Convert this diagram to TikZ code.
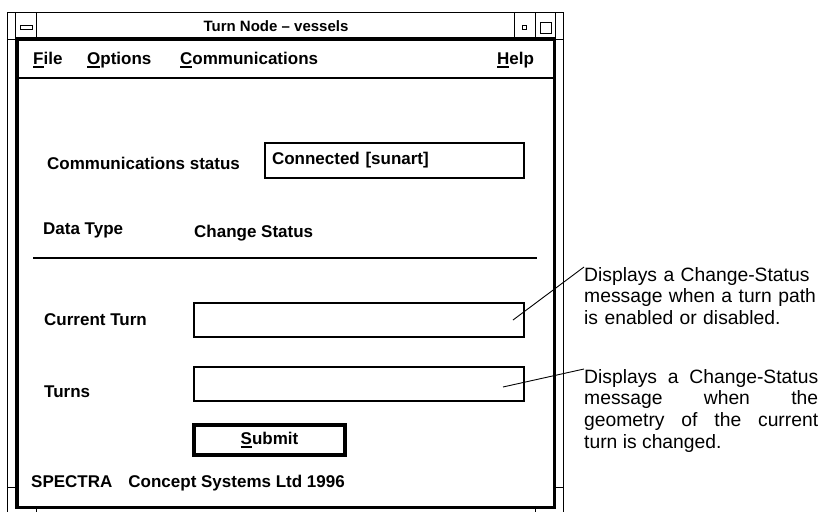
\documentclass[tikz,border=0pt]{standalone}
\usepackage{fontspec}
\setmainfont{Liberation Sans}
\usepackage{tikz}

\newcommand{\mnem}[1]{\setbox0\hbox{#1}\rlap{\rule[-3.5pt]{\wd0}{1.5pt}}\box0}

\begin{document}
\begin{tikzpicture}[
    x=1pt, y=-1pt,
    frame/.style={line width=1pt},
    label/.style={anchor=west, inner sep=0pt, font=\fontsize{17}{20}\selectfont\bfseries},
    field/.style={draw, line width=2pt, inner sep=0pt, minimum width=330pt, minimum height=34pt},
    note/.style={anchor=north west, inner sep=0pt, text width=234pt, align=justify,
        font=\fontsize{19.3}{21.7}\selectfont,
        execute at begin node={\hyphenpenalty=10000 \exhyphenpenalty=10000 \tolerance=9999 }}
]
\useasboundingbox (0,0) rectangle (823,512);

% window frame
\draw[frame] (7,512) -- (7,12) -- (563,12) -- (563,512);
\draw[frame] (15,12) -- (15,39) (36,12) -- (36,39) (514,12) -- (514,39)
    (535,12) -- (535,39) (555,12) -- (555,39);
\draw[frame] (7,39) -- (15,39) (555,39) -- (563,39) (7,487) -- (15,487) (555,487) -- (563,487)
    (36,508) -- (36,512) (535,508) -- (535,512);
\draw[frame] (20,25) rectangle (32,29);
\draw[frame] (522.5,25.5) rectangle (526,29);
\draw[frame] (540,22) rectangle (551,33);
\draw[line width=3.5pt] (16.75,39) rectangle (554.25,507.5);
\draw[line width=2.5pt] (15,78) -- (556,78);

\node[font=\fontsize{15}{18}\selectfont\bfseries] (title) at (276,26) {Turn Node -- vessels};

% menu bar
\node[label] (file) at (33,60) {\mnem{F}ile};
\node[label] (options) at (87,60) {\mnem{O}ptions};
\node[label] (comms) at (180,60) {\mnem{C}ommunications};
\node[label] (help) at (497,60) {\mnem{H}elp};

% form
\node[label] (statuslbl) at (47,163) {Communications status};
\node[field, minimum width=259pt, minimum height=35pt, inner xsep=7pt, text width=245pt,
    align=left, font=\fontsize{17}{20}\selectfont\bfseries] (status) at (394.5,160.5) {Connected [sunart]};
\node[label] (typelbl) at (43,230) {Data Type};
\node[label] (typeval) at (194,233) {Change Status};
\draw[line width=2pt] (33,258) -- (537,258);

\node[label] (turnlbl) at (44,320) {Current Turn};
\node[field] (turn) at (359,320) {};
\node[label] (turnslbl) at (44,392) {Turns};
\node[field] (turns) at (359,384) {};

\node[draw, line width=4pt, minimum width=151pt, minimum height=30pt, inner sep=0pt,
    font=\fontsize{17}{20}\selectfont\bfseries] (submit) at (269.5,440) {\mnem{S}ubmit};

\node[label] (credit) at (31,483) {SPECTRA\hspace{16pt}Concept Systems Ltd 1996};

% callouts
\node[note, align=left, text width=250pt] (note1) at (584,267) {Displays a Change-Status\\ message when a turn path\\ is enabled or disabled.};
\node[note] (note2) at (584,369) {Displays a Change-Status message when the geometry of the current turn is changed.};

\coordinate (pin1) at (513,320);
\coordinate (pin2) at (503,387);
\draw[line width=0.9pt] (pin1) -- (note1.north west);
\draw[line width=0.9pt] (pin2) -- (note2.north west);
\end{tikzpicture}
\end{document}
